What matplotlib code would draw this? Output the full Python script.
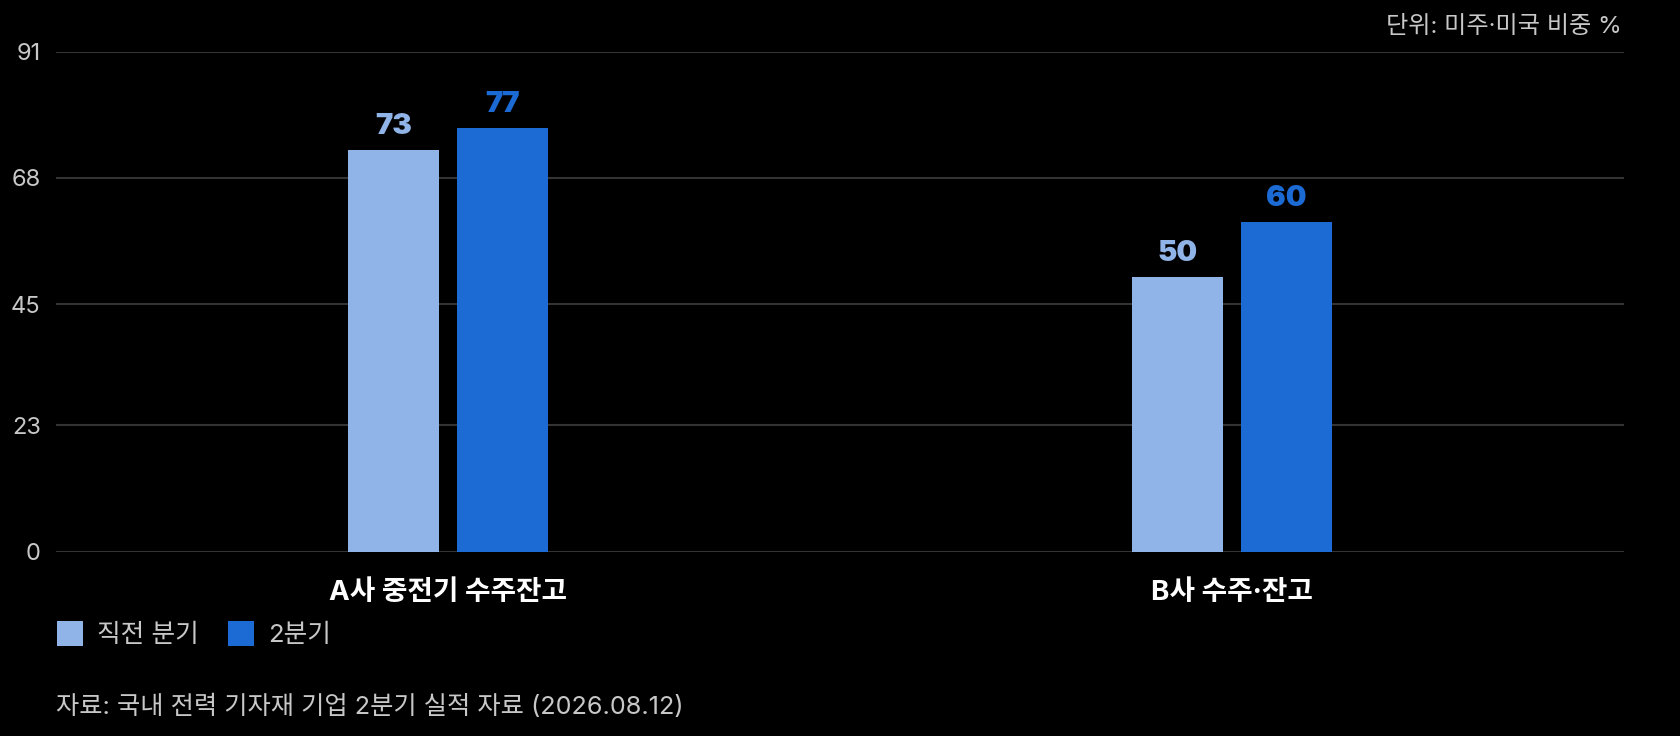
import numpy as np
import matplotlib.pyplot as plt

plt.rcParams['font.family'] = ['Inter', 'Noto Sans CJK KR', 'DejaVu Sans']

categories = ['A사 중전기 수주잔고', 'B사 수주·잔고']
series_names = ['직전 분기', '2분기']
prev_values = [73, 50]
q2_values = [77, 60]
y_ticks = [0, 23, 45, 68, 91]
y_max = 91

light = '#90b4e8'
dark = '#1c6ad4'
grid_c = '#333333'
text_c = '#c8c8c8'

fig = plt.figure(figsize=(16.8, 7.36), dpi=100, facecolor='black')
ax = fig.add_axes([0.0333, 0.2503, 0.9334, 0.6797])
ax.set_facecolor('black')

x = np.arange(len(categories))
w = 0.116
off = 0.069
b1 = ax.bar(x - off, prev_values, w, color=light, label=series_names[0], zorder=3)
b2 = ax.bar(x + off, q2_values, w, color=dark, label=series_names[1], zorder=3)

for bars, vals, c in [(b1, prev_values, light), (b2, q2_values, dark)]:
    for rect, v in zip(bars, vals):
        ax.annotate(str(v), (rect.get_x() + rect.get_width() / 2, v),
                    xytext=(0, 10), textcoords='offset pixels',
                    ha='center', va='bottom', color=c,
                    fontsize=21, fontweight='black')

ax.set_xlim(-0.5, 1.5)
ax.set_ylim(0, y_max)
ax.set_yticks(y_ticks)
ax.set_yticklabels([str(t) for t in y_ticks])
ax.yaxis.grid(True, color=grid_c, linewidth=1.5, zorder=0)
ax.set_xticks(x)
ax.set_xticklabels(categories, fontsize=20, fontweight='bold', color='white')
ax.tick_params(axis='x', length=0, pad=20)
ax.tick_params(axis='y', length=0, pad=11, labelsize=17, labelcolor=text_c)
for s in ax.spines.values():
    s.set_visible(False)

fig.text(1622 / 1680, 1 - 27 / 736, '단위: 미주·미국 비중 %', ha='right', va='center',
         fontsize=17.4, color=text_c)

leg = fig.legend(handles=[b1, b2], loc='center left',
                 bbox_to_anchor=(44 / 1680, 1 - 634 / 736), ncol=2,
                 frameon=False, borderpad=0, handlelength=1.0, handleheight=1.1,
                 handletextpad=0.55, columnspacing=1.15, fontsize=18.5)
for t in leg.get_texts():
    t.set_color(text_c)

fig.text(56 / 1680, 1 - 707 / 736, '자료: 국내 전력 기자재 기업 2분기 실적 자료 (2026.08.12)',
         ha='left', va='center', fontsize=18.2, color=text_c)

fig.savefig('out.png', dpi=100, facecolor='black')
